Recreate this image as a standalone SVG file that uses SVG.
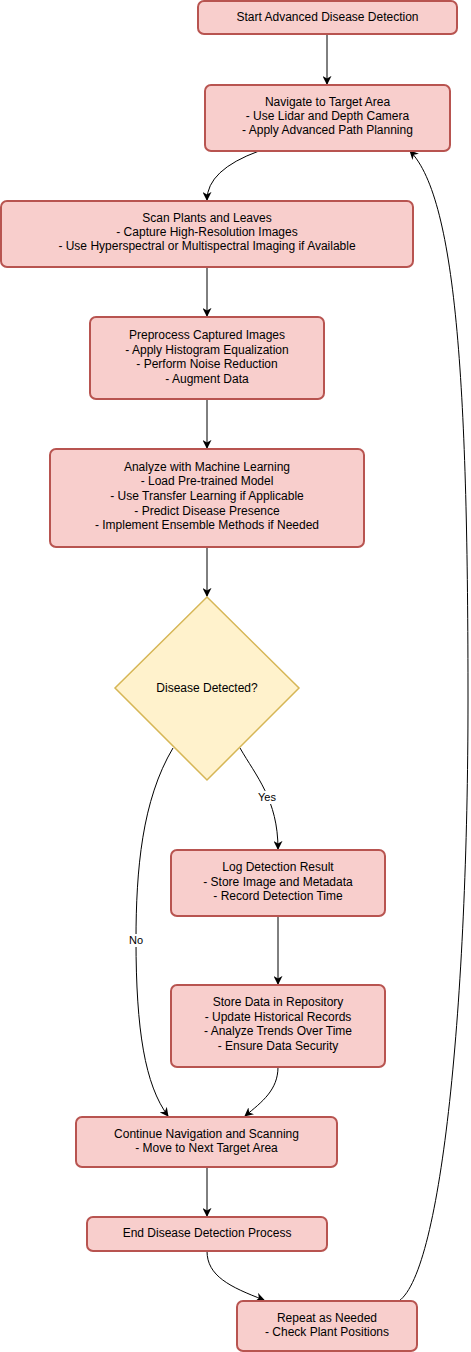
<svg xmlns="http://www.w3.org/2000/svg" width="471" height="1352" viewBox="0 0 471 1352">
<style>
.n rect{fill:#f8cecc;stroke:#b85450;stroke-width:2}
.d polygon{fill:#fff2cc;stroke:#d6b656;stroke-width:1.5}
text{font-family:"Liberation Sans",Arial,sans-serif;font-size:12px;fill:#000;text-anchor:middle}
.e path{fill:none;stroke:#000;stroke-width:1;marker-end:url(#arr)}
.lbl{font-size:11px}
.lb{fill:#fff;stroke:none}
</style>
<defs>
<marker id="arr" viewBox="0 0 10 10" refX="9" refY="5" markerWidth="9" markerHeight="9" markerUnits="userSpaceOnUse" orient="auto">
<path d="M0,0 L10,5 L0,10 L3,5 z" fill="#000" stroke="none"/>
</marker>
</defs>
<rect width="471" height="1352" fill="#fff"/>
<g class="e" id="connectors">
<path d="M327,34 L327,84"/>
<path d="M259,151 Q207,170 207,200"/>
<path d="M207,267 L207,316"/>
<path d="M207,399 L207,448"/>
<path d="M207,547 L207,596"/>
<path d="M240,748 C256,776 278,800 278,849"/>
<path d="M173,748 C142,800 136,870 136,940 C136,1030 145,1085 168,1116"/>
<path d="M278,916 L278,984"/>
<path d="M278,1067 C278,1090 262,1102 245,1116"/>
<path d="M207,1167 L207,1216"/>
<path d="M207,1251 C207,1276 230,1287 264,1300"/>
<path d="M399,1301 C442,1270 468,1000 468,700 C468,400 458,200 410,151"/>
<rect class="lb" x="257" y="791" width="20" height="13"/>
<text class="lbl" x="267" y="801">Yes</text>
<rect class="lb" x="128" y="934" width="16" height="13"/>
<text class="lbl" x="136" y="944">No</text>
</g>
<g class="n" id="start"><rect x="198" y="1" width="259" height="33" rx="6"/><text x="327.5" y="21">Start Advanced Disease Detection</text></g>
<g class="n" id="navigate"><rect x="205" y="85" width="245" height="66" rx="6"/>
<text x="327.5" y="106">Navigate to Target Area</text><text x="327.5" y="120">- Use Lidar and Depth Camera</text><text x="327.5" y="134">- Apply Advanced Path Planning</text></g>
<g class="n" id="scan"><rect x="1" y="201" width="412" height="66" rx="6"/>
<text x="207" y="222">Scan Plants and Leaves</text><text x="207" y="236">- Capture High-Resolution Images</text><text x="207" y="250">- Use Hyperspectral or Multispectral Imaging if Available</text></g>
<g class="n" id="preprocess"><rect x="90" y="317" width="234" height="82" rx="6"/>
<text x="207" y="339">Preprocess Captured Images</text><text x="207" y="354">- Apply Histogram Equalization</text><text x="207" y="368">- Perform Noise Reduction</text><text x="207" y="383">- Augment Data</text></g>
<g class="n" id="analyze"><rect x="50" y="449" width="314" height="98" rx="6"/>
<text x="207" y="471">Analyze with Machine Learning</text><text x="207" y="485">- Load Pre-trained Model</text><text x="207" y="500">- Use Transfer Learning if Applicable</text><text x="207" y="515">- Predict Disease Presence</text><text x="207" y="529">- Implement Ensemble Methods if Needed</text></g>
<g class="d" id="decision"><polygon points="207,597 299,688 207,780 115,688"/><text x="207" y="692">Disease Detected?</text></g>
<g class="n" id="log"><rect x="171" y="850" width="214" height="66" rx="6"/>
<text x="278" y="871">Log Detection Result</text><text x="278" y="886">- Store Image and Metadata</text><text x="278" y="900">- Record Detection Time</text></g>
<g class="n" id="store"><rect x="171" y="985" width="214" height="82" rx="6"/>
<text x="278" y="1006">Store Data in Repository</text><text x="278" y="1021">- Update Historical Records</text><text x="278" y="1035">- Analyze Trends Over Time</text><text x="278" y="1050">- Ensure Data Security</text></g>
<g class="n" id="continue"><rect x="76" y="1117" width="261" height="50" rx="6"/>
<text x="206.5" y="1138">Continue Navigation and Scanning</text><text x="206.5" y="1152">- Move to Next Target Area</text></g>
<g class="n" id="end"><rect x="87" y="1217" width="240" height="34" rx="6"/><text x="207" y="1237">End Disease Detection Process</text></g>
<g class="n" id="repeat"><rect x="237" y="1301" width="180" height="50" rx="6"/>
<text x="327" y="1322">Repeat as Needed</text><text x="327" y="1336">- Check Plant Positions</text></g>
</svg>
